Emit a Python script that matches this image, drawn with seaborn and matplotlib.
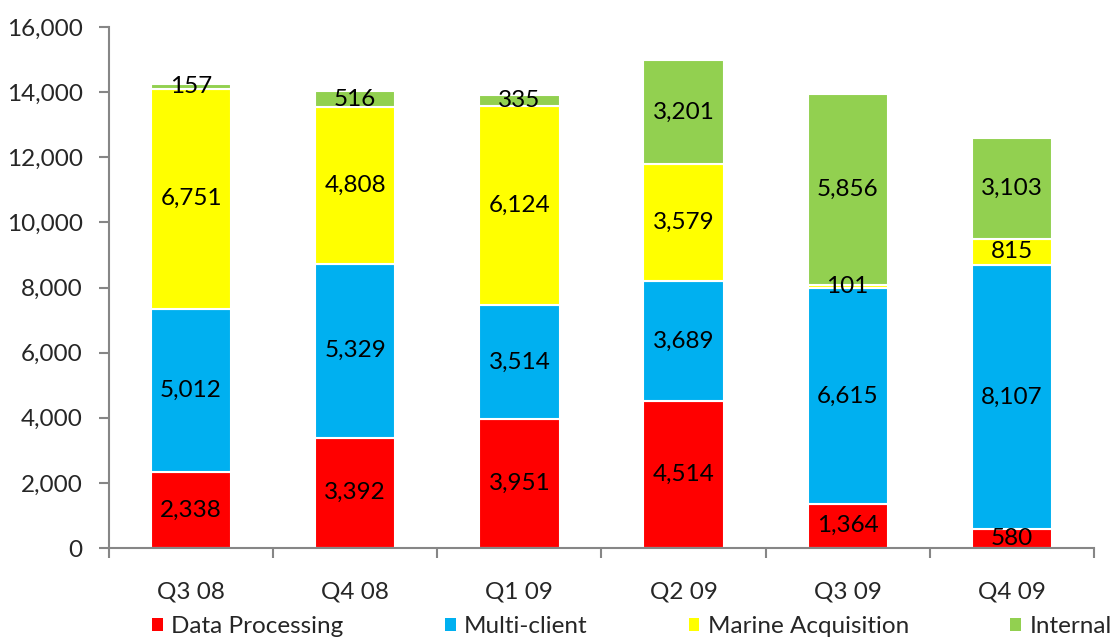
import numpy as np
import pandas as pd
import seaborn as sns
import matplotlib.pyplot as plt
from matplotlib.patches import Patch
from matplotlib.ticker import FuncFormatter

# data
quarters = ["Q3 08", "Q4 08", "Q1 09", "Q2 09", "Q3 09", "Q4 09"]
data_processing = [2338, 3392, 3951, 4514, 1364, 580]
multi_client = [5012, 5329, 3514, 3689, 6615, 8107]
marine_acquisition = [6751, 4808, 6124, 3579, 101, 815]
internal = [157, 516, 335, 3201, 5856, 3103]

series_names = ["Data Processing", "Multi-client", "Marine Acquisition", "Internal"]
colors = ["#FF0000", "#00B0F0", "#FFFF00", "#92D050"]

df = pd.DataFrame({
    "quarter": quarters,
    "Data Processing": data_processing,
    "Multi-client": multi_client,
    "Marine Acquisition": marine_acquisition,
    "Internal": internal,
})

sns.set_style("ticks")
plt.rcParams['font.family'] = ["Lato", "DejaVu Sans"]
fs = 17.5

fig = plt.figure(figsize=(11.18, 6.39), dpi=100)
ax = fig.add_axes([0.0975, 0.1424, 0.881, 0.8153])

bottom = np.zeros(len(quarters))
for name, c in zip(series_names, colors):
    sns.barplot(data=df, x="quarter", y=name, bottom=bottom, color=c, saturation=1,
                width=0.49, edgecolor="white", linewidth=1.5, ax=ax)
    bottom = bottom + df[name].values

# labels in the middle of every segment
for cont in ax.containers:
    ax.bar_label(cont, labels=[f"{v:,.0f}" for v in cont.datavalues],
                 label_type="center", fontsize=fs, color="black")

ax.set_ylim(0, 16000)
ax.set_xlim(-0.5, len(quarters) - 0.5)
ax.set_yticks(np.arange(0, 16001, 2000))
ax.yaxis.set_major_formatter(FuncFormatter(lambda v, p: f"{v:,.0f}"))
ax.set_xlabel("")
ax.set_ylabel("")

# category ticks between the bars, labels under the bars
ax.set_xticks(np.arange(-0.5, len(quarters)), minor=True)
ax.tick_params(axis="x", which="major", length=0, pad=24, labelsize=fs)
ax.tick_params(axis="x", which="minor", length=7, width=1.5, color="#868686", direction="out")
ax.tick_params(axis="y", length=7, width=1.5, color="#868686", pad=12, labelsize=fs)

sns.despine(ax=ax)
for s in ["left", "bottom"]:
    ax.spines[s].set_color("#868686")
    ax.spines[s].set_linewidth(1.5)

handles = [Patch(facecolor=c, edgecolor="none", label=n) for n, c in zip(series_names, colors)]
fig.legend(handles=handles, loc="center left", bbox_to_anchor=(0.136, 0.019),
           ncol=4, frameon=False, fontsize=fs, handlelength=0.45, handleheight=0.45,
           handletextpad=0.35, columnspacing=4.15, borderpad=0, borderaxespad=0)

fig.savefig("out.png", dpi=100)
